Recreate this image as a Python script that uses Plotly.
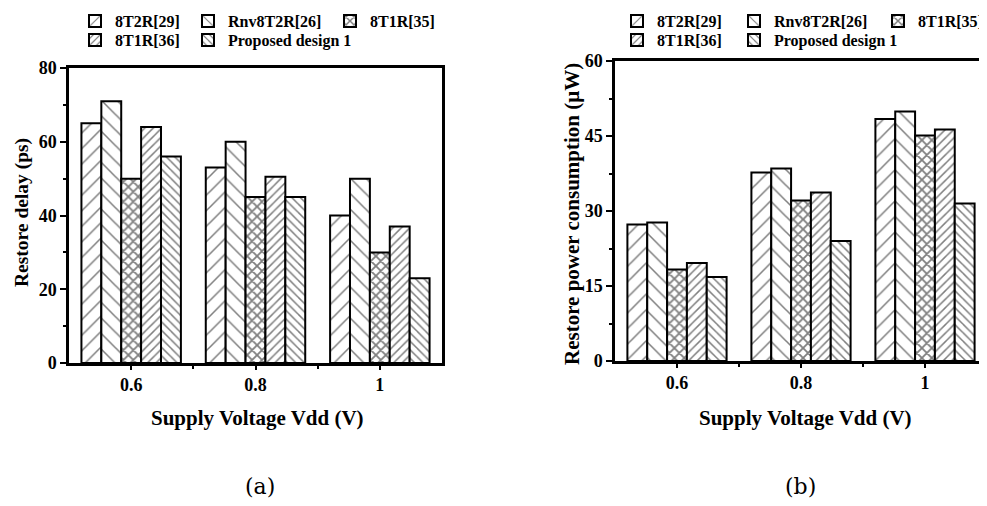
import plotly.graph_objects as go

voltages = [0.6, 0.8, 1.0]
series_names = ["8T2R[29]", "Rnv8T2R[26]", "8T1R[35]", "8T1R[36]", "Proposed design 1"]

delay_8t2r = [65, 53, 40]
delay_rnv = [71, 60, 50]
delay_8t1r35 = [50, 45, 30]
delay_8t1r36 = [64, 50.5, 37]
delay_prop = [56, 45, 23]

power_8t2r = [27.3, 37.7, 48.4]
power_rnv = [27.7, 38.5, 49.9]
power_8t1r35 = [18.3, 32.1, 45.1]
power_8t1r36 = [19.6, 33.7, 46.3]
power_prop = [16.8, 24.0, 31.5]

patterns = [("/", 11, 0.14), ("\\", 11, 0.14), ("x", 7, 0.45), ("/", 6, 0.25), ("\\", 6, 0.25)]

FONT = "Liberation Serif"
OFF = 8  # page body margin of the viewer
W, H = 987 - OFF, 506 - OFF


def px(x):
    return (x - OFF) / W


def py(y):
    return 1 - (y - OFF) / H


# legend box left positions (window px) for each series, per panel
leg_left_x = [75, 188, 330, 75, 188]
leg_right_x = [617, 734, 878, 617, 734]
leg_row_y = [21, 21, 21, 40, 40]

fig = go.Figure()

delay_sets = [delay_8t2r, delay_rnv, delay_8t1r35, delay_8t1r36, delay_prop]
power_sets = [power_8t2r, power_rnv, power_8t1r35, power_8t1r36, power_prop]

legfont = dict(family=FONT, size=16, color="black", weight="bold")
leg_common = dict(orientation="h", font=legfont, bgcolor="rgba(0,0,0,0)",
                  xanchor="left", yanchor="middle", itemclick=False, itemdoubleclick=False)
legends = {}

for i, name in enumerate(series_names):
    shape, size, sol = patterns[i]
    pat = dict(shape=shape, size=size, solidity=sol, fgcolor="black", bgcolor="white", fillmode="overlay")
    ll = "legend" if i == 0 else f"legend{i + 1}"
    lr = f"legend{i + 6}"
    legends[ll] = dict(x=px(leg_left_x[i]), y=py(leg_row_y[i]), **leg_common)
    legends[lr] = dict(x=px(leg_right_x[i]), y=py(leg_row_y[i]), **leg_common)
    fig.add_trace(go.Bar(
        x=voltages, y=delay_sets[i], name=name, xaxis="x", yaxis="y",
        marker=dict(color="white", pattern=pat, line=dict(color="black", width=2)),
        legend=ll,
    ))
    fig.add_trace(go.Bar(
        x=voltages, y=power_sets[i], name=name, xaxis="x2", yaxis="y2",
        marker=dict(color="white", pattern=pat, line=dict(color="black", width=2)),
        legend=lr,
    ))

tickfont = dict(family=FONT, size=18, color="black", weight="bold")
axis_common = dict(
    showline=True, linecolor="black", linewidth=2.5, mirror=True,
    ticks="outside", tickwidth=2, tickcolor="black",
    showgrid=False, zeroline=False, tickfont=tickfont, automargin=False,
)
xminor = dict(tickvals=[0.7, 0.9], ticks="outside", ticklen=3, tickwidth=2, tickcolor="black")

fig.update_layout(
    width=W, height=H,
    margin=dict(l=0, r=0, t=0, b=0, autoexpand=False),
    paper_bgcolor="white", plot_bgcolor="white",
    barmode="group", bargap=0.2, bargroupgap=0,
    font=dict(family=FONT, color="black"),
    xaxis=dict(domain=[px(69), px(442)], range=[0.5, 1.1], anchor="y", ticklen=4,
               tickvals=[0.6, 0.8, 1.0], ticktext=["0.6", "0.8", "1"],
               minor=xminor, **axis_common),
    yaxis=dict(domain=[py(363), py(68)], range=[0, 80], anchor="x", ticklen=6,
               dtick=20, tick0=0,
               minor=dict(dtick=10, ticks="outside", ticklen=3, tickwidth=2, tickcolor="black"),
               **axis_common),
    xaxis2=dict(domain=[px(615), 1.0], range=[0.5, 1.1], anchor="y2", ticklen=4,
                tickvals=[0.6, 0.8, 1.0], ticktext=["0.6", "0.8", "1"],
                minor=xminor, **axis_common),
    yaxis2=dict(domain=[py(361), py(61)], range=[0, 60], anchor="x2", ticklen=6,
                dtick=15, tick0=0,
                minor=dict(dtick=7.5, ticks="outside", ticklen=3, tickwidth=2, tickcolor="black"),
                **axis_common),
    showlegend=True,
    **legends,
)

ann = [
    dict(text="<b>Supply Voltage Vdd (V)</b>", x=px(257), y=py(418), size=21),
    dict(text="<b>Supply Voltage Vdd (V)</b>", x=px(805), y=py(418), size=21),
    dict(text="<b>Restore delay (ps)</b>", x=px(22), y=py(213), textangle=-90, size=19.5),
    dict(text="<b>Restore power consumption (μW)</b>", x=px(572), y=py(214), textangle=-90, size=21),
]
for a in ann:
    size = a.pop("size")
    fig.add_annotation(xref="paper", yref="paper", showarrow=False,
                       xanchor="center", yanchor="middle",
                       font=dict(family=FONT, size=size, color="black"), **a)

for txt, xc in [("(a)", 260), ("(b)", 800)]:
    fig.add_annotation(text=txt, xref="paper", yref="paper", x=px(xc), y=py(486),
                       showarrow=False, xanchor="center", yanchor="middle",
                       font=dict(family="DejaVu Serif", size=22, color="black"))

fig.write_html("out.html")
